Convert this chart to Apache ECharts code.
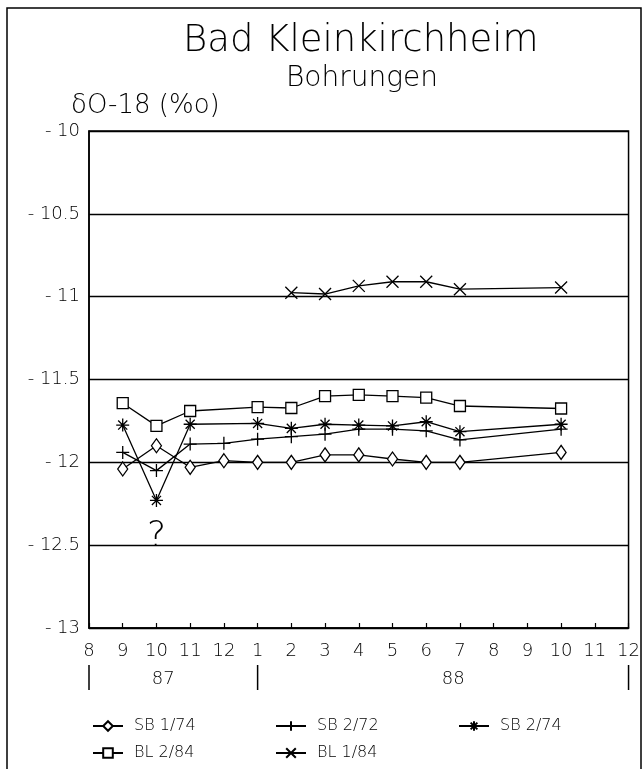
<!DOCTYPE html>
<html>
<head>
<meta charset="utf-8">
<script src="https://cdn.jsdelivr.net/npm/echarts@6/dist/echarts.min.js"></script>
<style>
html,body{margin:0;padding:0;background:#fff;}
#chart{width:643px;height:769px;}
</style>
</head>
<body>
<div id="chart"></div>
<script>
// month index: 0 = Aug 1987 ... 16 = Dec 1988
var monthIdx = [1, 2, 3, 4, 5, 6, 7, 8, 9, 10, 11, 14];
var monthTickLabels = ['8','9','10','11','12','1','2','3','4','5','6','7','8','9','10','11','12'];
var yearLabels = ['87', '88'];
var yearLabelAt = [2.2, 10.8];
var yearSeparatorsAt = [0, 5, 16];

var sb174 = [-12.04, -11.90, -12.03, -11.99, -12.00, -12.00, -11.955, -11.955, -11.98, -12.00, -12.00, -11.94];
var sb272 = [-11.94, -12.05, -11.89, -11.885, -11.86, -11.845, -11.83, -11.80, -11.80, -11.81, -11.865, -11.80];
var sb274 = [-11.775, -12.23, -11.77, null, -11.765, -11.795, -11.77, -11.775, -11.78, -11.755, -11.815, -11.77];
var bl284 = [-11.643, -11.78, -11.69, null, -11.667, -11.672, -11.60, -11.593, -11.60, -11.61, -11.66, -11.675];
var bl184 = [null, null, null, null, null, -10.976, -10.984, -10.935, -10.91, -10.91, -10.955, -10.945];
var questionMark = {x: 2, y: -12.45, text: '?'};

var seriesNames = ['SB 1/74', 'SB 2/72', 'SB 2/74', 'BL 2/84', 'BL 1/84'];
var legendLeft = [87, 270, 453, 87, 270];
var legendTop = [713, 713, 713, 740, 740];

function pairs(vals){ return monthIdx.map(function(m,i){ return [m, vals[i]]; }); }

var FONT = 'DejaVu Sans';
var FW = 200;
var plusPath = 'path://M5,0 L5,10 M0,5 L10,5';
var starPath = 'path://M5,0 L5,10 M0,5 L10,5 M1.5,1.5 L8.5,8.5 M8.5,1.5 L1.5,8.5';
var xPath = 'path://M0,0 L10,10 M10,0 L0,10';

function mkSeries(name, vals, symbol, size, fill){
  return {
    name: name, type: 'line', data: pairs(vals), connectNulls: true,
    symbol: symbol, symbolSize: size, showAllSymbol: true,
    lineStyle: {color: '#000', width: 1.3},
    itemStyle: {color: fill, borderColor: '#000', borderWidth: 1.3},
    emphasis: {disabled: true}, animation: false, z: 3
  };
}

var chart = echarts.init(document.getElementById('chart'), null, {renderer: 'canvas'});
var series = [
  mkSeries(seriesNames[0], sb174, 'diamond', [10, 14], '#fff'),
  mkSeries(seriesNames[1], sb272, plusPath, 13, 'none'),
  mkSeries(seriesNames[2], sb274, starPath, 13, 'none'),
  mkSeries(seriesNames[3], bl284, 'rect', 11, '#fff'),
  mkSeries(seriesNames[4], bl184, xPath, 12, 'none')
];
series[2].markPoint = {
  symbol: 'circle', symbolSize: 0, silent: true,
  data: [{coord: [questionMark.x, questionMark.y], value: questionMark.text}],
  label: {show: true, position: 'inside', formatter: questionMark.text, fontFamily: FONT, fontWeight: FW, fontSize: 36, color: '#000'}
};

var legends = seriesNames.map(function(n, i){
  return {
    data: [n], left: legendLeft[i], top: legendTop[i],
    itemWidth: 30, itemHeight: 12, itemGap: 10,
    textStyle: {fontFamily: FONT, fontWeight: FW, fontSize: 16, color: '#000', padding: [0, 0, 0, 6]},
    selectedMode: false
  };
});

var option = {
  backgroundColor: '#fff',
  animation: false,
  title: [
    {text: 'Bad Kleinkirchheim', left: 178, top: 18, textStyle: {fontFamily: FONT, fontSize: 37, fontWeight: FW, color: '#000'}},
    {text: 'Bohrungen', left: 281, top: 60, textStyle: {fontFamily: FONT, fontSize: 28, fontWeight: FW, color: '#000'}},
    {text: 'δO-18 (%o)', left: 66, top: 88, textStyle: {fontFamily: FONT, fontSize: 26, fontWeight: FW, color: '#000'}}
  ],
  legend: legends,
  grid: {left: 89, right: 6, top: 131, bottom: 141, show: true, borderColor: '#000', borderWidth: 1.5, backgroundColor: 'transparent'},
  xAxis: {
    type: 'value', min: 0, max: 16, interval: 1,
    axisLine: {show: true, lineStyle: {color: '#000', width: 1.5}},
    axisTick: {show: true, inside: true, length: 5, lineStyle: {color: '#000', width: 1.2}},
    splitLine: {show: false},
    axisLabel: {
      color: '#000', fontFamily: FONT, fontWeight: FW, fontSize: 18, margin: 14,
      formatter: function(v){ return monthTickLabels[Math.round(v)]; }
    }
  },
  yAxis: {
    type: 'value', min: -13, max: -10, interval: 0.5,
    axisLine: {show: true, lineStyle: {color: '#000', width: 1.5}},
    axisTick: {show: false},
    splitLine: {show: true, lineStyle: {color: '#000', width: 1.3}},
    axisLabel: {
      color: '#000', fontFamily: FONT, fontWeight: FW, fontSize: 18, margin: 9,
      formatter: function(v){ return '- ' + Math.abs(v); }
    }
  },
  series: series,
  graphic: []
};
chart.setOption(option);

var g = [];
g.push({type: 'rect', shape: {x: 7, y: 8, width: 634, height: 800}, style: {fill: 'none', stroke: '#000', lineWidth: 1.5}, silent: true, z: 0});
yearSeparatorsAt.forEach(function(m){
  var px = chart.convertToPixel({xAxisIndex: 0}, m);
  g.push({type: 'line', shape: {x1: px, y1: 665, x2: px, y2: 690}, style: {stroke: '#000', lineWidth: 1.5}, silent: true});
});
yearLabels.forEach(function(t, i){
  var px = chart.convertToPixel({xAxisIndex: 0}, yearLabelAt[i]);
  g.push({type: 'text', x: px, y: 679, style: {text: t, fontFamily: FONT, fontWeight: FW, fontSize: 18, fill: '#000', textAlign: 'center', textVerticalAlign: 'middle'}, silent: true});
});
chart.setOption({graphic: g});
</script>
</body>
</html>
